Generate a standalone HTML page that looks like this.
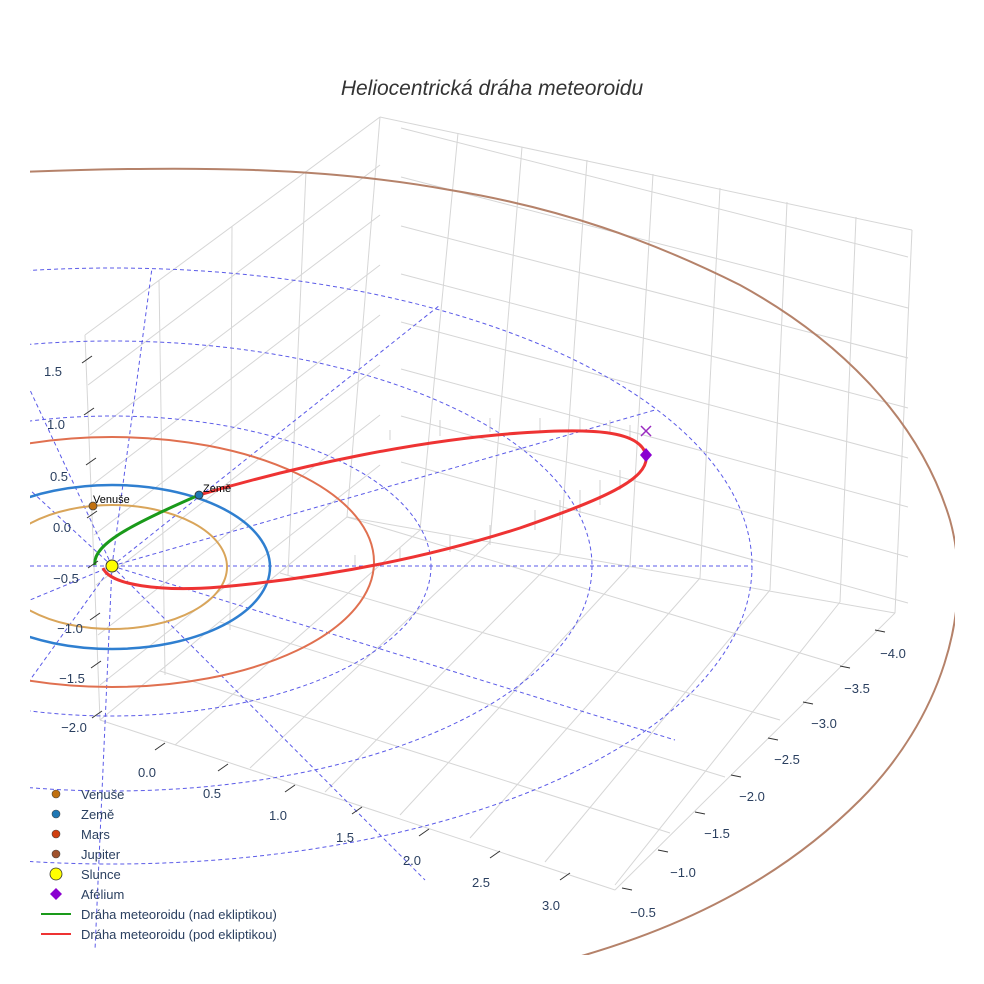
<!DOCTYPE html>
<html><head><meta charset="utf-8"><style>
body{margin:0;background:#fff;}
svg{display:block;font-family:"Liberation Sans",sans-serif;}
</style></head><body>
<svg width="984" height="984" viewBox="0 0 984 984" xmlns="http://www.w3.org/2000/svg">
<defs><clipPath id="c"><rect x="30" y="0" width="925" height="955"/></clipPath></defs>
<text x="492" y="95" text-anchor="middle" font-size="21" font-style="italic" fill="#333">Heliocentrická dráha meteoroidu</text>
<g stroke="#d6d6d6" stroke-width="1" fill="none">
<path d="M380,117 L912,230 M347,517 L895,613"/>
<path d="M401,128 L908,257 M401,177 L908,308 M401,226 L908,358 M401,274 L908,408 M401,322 L908,458 M401,369 L908,507 M401,416 L908,557 M401,462 L908,603"/>
<path d="M380,117 L347,517 M458,133 L420,530 M522,147 L490,542 M587,160 L560,554 M653,174 L630,566 M720,188 L700,578 M787,202 L770,590 M856,217 L840,602 M912,230 L895,613"/>
<path d="M380,117 L85,335 M380,165 L88,385 M380,215 L90,435 M380,265 L92,485 M380,315 L94,535 M380,365 L96,585 M380,415 L98,635 M380,465 L100,685"/>
<path d="M85,335 L100,720 M159,280 L165,675 M232,226 L230,630 M306,171 L288,575"/>
<path d="M347,517 L100,720 M420,530 L175,745 M490,542 L250,768 M560,554 L325,792 M630,566 L400,815 M700,578 L470,838 M770,590 L545,862 M840,602 L615,885 M895,613 L615,890"/>
<path d="M100,720 L615,890 M160,671 L670,833 M220,622 L725,777 M280,573 L780,720 M347,517 L840,665"/>
</g>
<g clip-path="url(#c)" fill="none">
<g stroke="#5b5be8" stroke-width="1" stroke-dasharray="4,3">
<ellipse cx="112" cy="566" rx="319" ry="150"/>
<ellipse cx="112" cy="566" rx="480" ry="225"/>
<ellipse cx="112" cy="566" rx="640" ry="298"/>
<line x1="30" y1="566" x2="752" y2="566"/>
<line x1="112" y1="566" x2="152" y2="268"/>
<line x1="112" y1="566" x2="440" y2="305"/>
<line x1="112" y1="566" x2="655" y2="410"/>
<line x1="112" y1="566" x2="675" y2="740"/>
<line x1="112" y1="566" x2="425" y2="880"/>
<line x1="112" y1="566" x2="95" y2="950"/>
<line x1="112" y1="566" x2="30" y2="680"/>
<line x1="112" y1="566" x2="30" y2="600"/>
<line x1="112" y1="566" x2="30" y2="490"/>
<line x1="112" y1="566" x2="30" y2="390"/>
</g>
<path d="M20,172 C200,165 330,168 450,190 C560,208 650,240 740,285 C840,340 920,420 950,520 C975,610 940,720 860,800 C780,880 680,930 560,962" stroke="#b5826a" stroke-width="2"/>
<ellipse cx="112" cy="562" rx="262" ry="125" stroke="#e07050" stroke-width="2"/>
<ellipse cx="112" cy="567" rx="158" ry="82" stroke="#2f7fd0" stroke-width="2.5"/>
<ellipse cx="112" cy="567" rx="115" ry="62" stroke="#d9a55a" stroke-width="2"/>
</g>
<g stroke="#c8c8c8" stroke-width="0.8">
<path d="M390,440 L390,430 M440,436 L440,420 M490,432 L490,418 M540,431 L540,418 M580,431 L580,418 M610,433 L610,420 M630,440 L630,425 M620,470 L620,490 M600,480 L600,505 M580,490 L580,513 M560,500 L560,520 M535,510 L535,530 M490,525 L490,545 M450,535 L450,552 M400,548 L400,560 M355,555 L355,565"/>
</g>
<path d="M199,495 C300,465 420,440 520,433 C590,428 640,430 646,455 C650,480 600,500 520,528 C420,560 320,578 220,587 C160,592 110,585 103,568" stroke="#ee3333" stroke-width="3" fill="none"/>
<path d="M95,565 C92,545 130,525 199,495" stroke="#1a9a1a" stroke-width="3" fill="none"/>
<circle cx="112" cy="566" r="6" fill="#ffff00" stroke="#333" stroke-width="1"/>
<circle cx="93" cy="506" r="4" fill="#c07010" stroke="#444" stroke-width="0.8"/>
<circle cx="199" cy="495" r="4" fill="#1f77b4" stroke="#333" stroke-width="0.8"/>
<text x="93" y="503" font-size="11">Venuše</text>
<text x="203" y="492" font-size="11">Země</text>
<path d="M641,426 L651,436 M651,426 L641,436" stroke="#9a2ac0" stroke-width="1.5"/>
<path d="M646,448 L652,455 L646,462 L640,455Z" fill="#8a00d0"/>
<g font-size="13" fill="#2a3f5f" text-anchor="middle">
<text x="53" y="376">1.5</text><text x="56" y="429">1.0</text><text x="59" y="481">0.5</text><text x="62" y="532">0.0</text><text x="66" y="583">−0.5</text><text x="70" y="633">−1.0</text><text x="72" y="683">−1.5</text><text x="74" y="732">−2.0</text>
<text x="147" y="777">0.0</text><text x="212" y="798">0.5</text><text x="278" y="820">1.0</text><text x="345" y="842">1.5</text><text x="412" y="865">2.0</text><text x="481" y="887">2.5</text><text x="551" y="910">3.0</text>
<text x="643" y="917">−0.5</text><text x="683" y="877">−1.0</text><text x="717" y="838">−1.5</text><text x="752" y="801">−2.0</text><text x="787" y="764">−2.5</text><text x="824" y="728">−3.0</text><text x="857" y="693">−3.5</text><text x="893" y="658">−4.0</text>
</g>
<g stroke="#333" stroke-width="1">
<path d="M82,363 L92,356 M84,415 L94,408 M86,465 L96,458 M87,518 L97,511 M88,568 L98,561 M90,620 L100,613 M91,668 L101,661 M92,718 L102,711"/>
<path d="M155,750 L165,743 M218,771 L228,764 M285,792 L295,785 M352,814 L362,807 M419,836 L429,829 M490,858 L500,851 M560,880 L570,873"/>
<path d="M622,888 L632,890 M658,850 L668,852 M695,812 L705,814 M731,775 L741,777 M768,738 L778,740 M803,702 L813,704 M840,666 L850,668 M875,630 L885,632"/>
</g>
<g font-size="13" fill="#2a3f5f">
<circle cx="56" cy="794" r="4" fill="#c07010" stroke="#444" stroke-width="0.6"/><text x="81" y="799">Venuše</text>
<circle cx="56" cy="814" r="4" fill="#1f77b4" stroke="#444" stroke-width="0.6"/><text x="81" y="819">Země</text>
<circle cx="56" cy="834" r="4" fill="#d04010" stroke="#444" stroke-width="0.6"/><text x="81" y="839">Mars</text>
<circle cx="56" cy="854" r="4" fill="#a0522d" stroke="#444" stroke-width="0.6"/><text x="81" y="859">Jupiter</text>
<circle cx="56" cy="874" r="6" fill="#ffff00" stroke="#333" stroke-width="0.8"/><text x="81" y="879">Slunce</text>
<path d="M56,888 L62,894 L56,900 L50,894Z" fill="#8a00d0"/><text x="81" y="899">Afélium</text>
<line x1="41" y1="914" x2="71" y2="914" stroke="#1a9a1a" stroke-width="2"/><text x="81" y="919">Dráha meteoroidu (nad ekliptikou)</text>
<line x1="41" y1="934" x2="71" y2="934" stroke="#ee3333" stroke-width="2"/><text x="81" y="939">Dráha meteoroidu (pod ekliptikou)</text>
</g>
</svg>
</body></html>
